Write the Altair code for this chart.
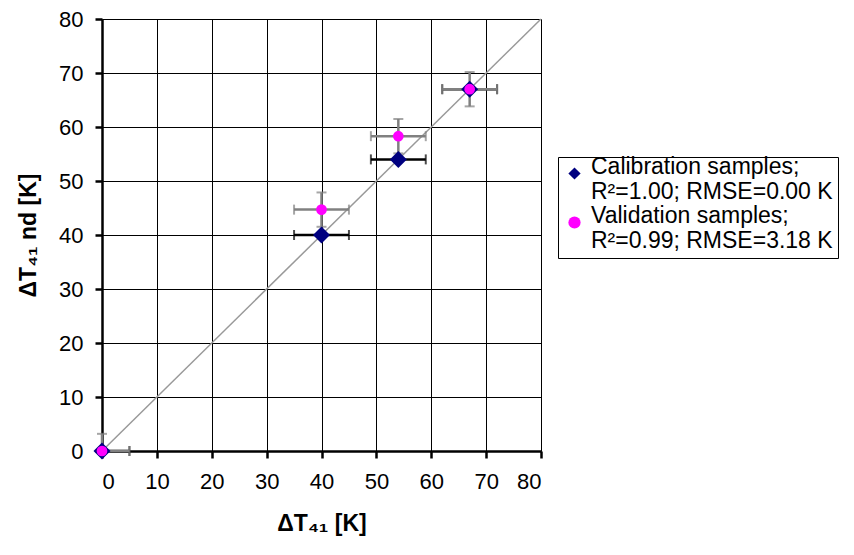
import altair as alt
import pandas as pd

# Data
cal_x = [0, 40, 54, 67]
cal_y = [0, 40, 54, 67]
val_x = [0, 40, 54, 67]
val_y = [0, 44.7, 58.3, 67]
x_err = 5.0
cal_y_err = 0.0
val_y_err = 3.18
series_names = ["Calibration samples;|R²=1.00; RMSE=0.00 K",
                "Validation samples;|R²=0.99; RMSE=3.18 K"]
diag = [0, 80]
ticks = [0, 10, 20, 30, 40, 50, 60, 70, 80]

font = "Liberation Sans"

cal = pd.DataFrame({"x": cal_x, "y": cal_y, "series": series_names[0],
                    "xlo": [v - x_err for v in cal_x], "xhi": [v + x_err for v in cal_x],
                    "ylo": [v - cal_y_err for v in cal_y], "yhi": [v + cal_y_err for v in cal_y]})
val = pd.DataFrame({"x": val_x, "y": val_y, "series": series_names[1],
                    "xlo": [v - x_err for v in val_x], "xhi": [v + x_err for v in val_x],
                    "ylo": [v - val_y_err for v in val_y], "yhi": [v + val_y_err for v in val_y]})
diag_df = pd.DataFrame({"x": diag, "y": diag})

xs = alt.Scale(domain=[0, 80], nice=False, clamp=True)
ys = alt.Scale(domain=[0, 80], nice=False, clamp=True)

common_axis = dict(values=ticks, grid=True, gridColor="black", gridWidth=1,
                   domainColor="black", domainWidth=2.5, tickColor="black", tickSize=7, tickWidth=2.5,
                   labelFont=font, labelFontSize=22, labelColor="black",
                   titleFont=font, titleFontSize=23, titleFontWeight="bold", titleColor="black")
xaxis = alt.Axis(title="ΔT₄₁ [K]", labelPadding=13, titlePadding=20, **common_axis)
yaxis = alt.Axis(title="ΔT₄₁ nd [K]", labelPadding=12, titlePadding=18, **common_axis)

base_axes = alt.Chart(diag_df).mark_line(color="#999999", strokeWidth=1.5).encode(
    x=alt.X("x:Q", scale=xs, axis=xaxis),
    y=alt.Y("y:Q", scale=ys, axis=yaxis),
)

def errbars(df, color):
    hx = alt.Chart(df).mark_rule(color=color, strokeWidth=2.5).encode(
        x=alt.X("xlo:Q", scale=xs), x2="xhi:Q", y=alt.Y("y:Q", scale=ys))
    vy = alt.Chart(df).mark_rule(color=color, strokeWidth=2.5).encode(
        x=alt.X("x:Q", scale=xs), y=alt.Y("ylo:Q", scale=ys), y2="yhi:Q")
    cx1 = alt.Chart(df).mark_tick(color=color, orient="vertical", size=10, thickness=2).encode(
        x=alt.X("xlo:Q", scale=xs), y=alt.Y("y:Q", scale=ys))
    cx2 = alt.Chart(df).mark_tick(color=color, orient="vertical", size=10, thickness=2).encode(
        x=alt.X("xhi:Q", scale=xs), y=alt.Y("y:Q", scale=ys))
    cy1 = alt.Chart(df).mark_tick(color=color, orient="horizontal", size=10, thickness=2).encode(
        x=alt.X("x:Q", scale=xs), y=alt.Y("ylo:Q", scale=ys))
    cy2 = alt.Chart(df).mark_tick(color=color, orient="horizontal", size=10, thickness=2).encode(
        x=alt.X("x:Q", scale=xs), y=alt.Y("yhi:Q", scale=ys))
    layers = [hx, cx1, cx2]
    if (df["yhi"] != df["ylo"]).any():
        layers += [vy, cy1, cy2]
    return layers

color_scale = alt.Scale(domain=series_names, range=["#000080", "#FF00FF"])
shape_scale = alt.Scale(domain=series_names, range=["diamond", "circle"])
legend = alt.Legend(orient="none", legendX=456, legendY=138, title=None,
                    strokeColor="black", fillColor="white", padding=5,
                    labelFont=font, labelFontSize=23, labelColor="black", labelLimit=400,
                    labelBaseline="alphabetic", labelOffset=5,
                    symbolSize=150, symbolStrokeWidth=0, rowPadding=0,
                    labelExpr="split(datum.label, '|')")

def points(df, size):
    return alt.Chart(df).mark_point(filled=True, opacity=1, size=size).encode(
        x=alt.X("x:Q", scale=xs), y=alt.Y("y:Q", scale=ys),
        color=alt.Color("series:N", scale=color_scale, legend=legend),
        shape=alt.Shape("series:N", scale=shape_scale, legend=legend),
    )

layers = ([base_axes] + errbars(cal, "black") + errbars(val, "#808080")
          + [points(cal, 289), points(val, 115)])

chart = alt.layer(*layers).properties(
    width=439, height=432,
    autosize=alt.AutoSizeParams(type="none"),
    padding={"left": 94, "top": 11, "right": 305, "bottom": 96},
).configure_view(stroke="black", strokeWidth=1).configure(background="white")

chart.save("out.html", embed_options={"renderer": "svg", "actions": False})
